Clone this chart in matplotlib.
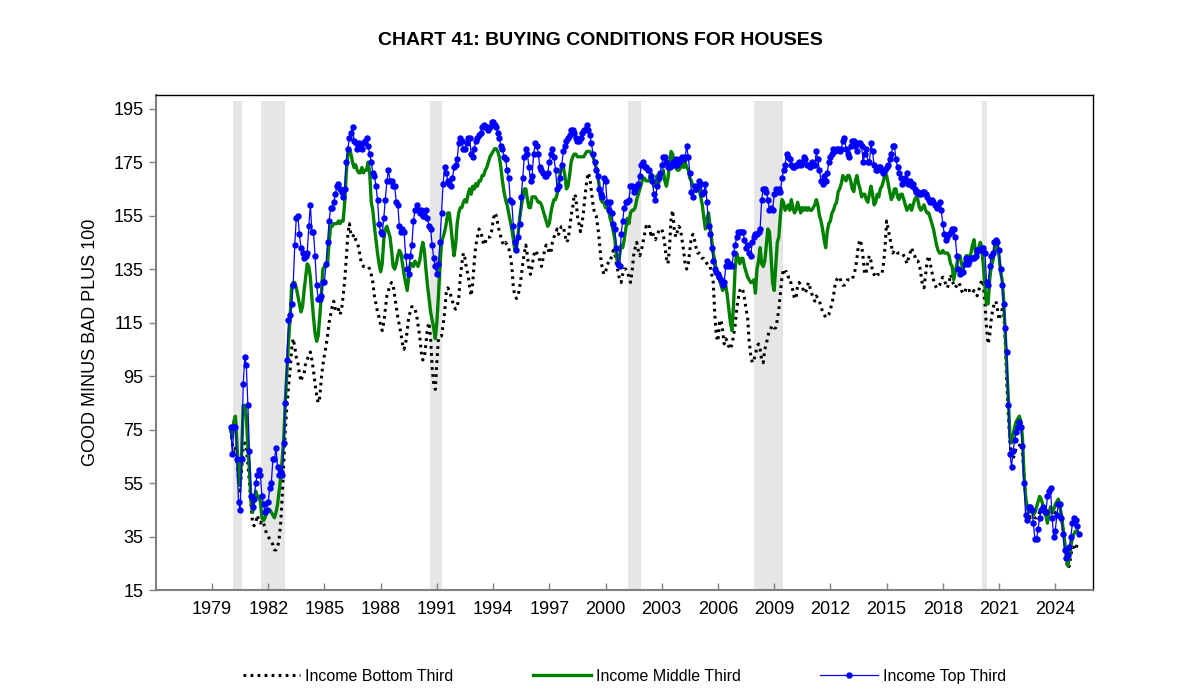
import numpy as np
import matplotlib
matplotlib.use("Agg")
import matplotlib.pyplot as plt

plt.rcParams['font.family'] = ['Liberation Sans', 'DejaVu Sans']

# =========================
# Data: monthly, Jan 1980 - Apr 2025 (good minus bad plus 100)
# =========================
top_third = [
    76, 66, 76, 76, 64, 48, 45, 64, 92, 102, 99, 84,          # 1980
    67, 50, 46, 49, 55, 58, 60, 58, 50, 47, 44, 45,           # 1981
    48, 53, 55, 64, 64, 68, 61, 58, 59, 58, 70, 85,           # 1982
    101, 116, 118, 122, 129, 144, 154, 155, 148, 143, 141, 139,  # 1983
    140, 141, 151, 159, 149, 149, 140, 129, 124, 124, 125, 130,  # 1984
    130, 137, 145, 153, 158, 158, 160, 163, 166, 167, 165, 164,  # 1985
    162, 165, 175, 180, 184, 186, 188, 183, 182, 180, 182, 181,  # 1986
    180, 182, 183, 184, 181, 178, 175, 171, 170, 166, 161, 152,  # 1987
    149, 148, 154, 161, 168, 172, 168, 168, 166, 166, 160, 159,  # 1988
    151, 149, 150, 149, 140, 135, 133, 140, 144, 153, 157, 159,  # 1989
    157, 156, 157, 155, 155, 157, 154, 151, 150, 144, 139, 136,  # 1990
    133, 137, 145, 156, 167, 173, 171, 168, 167, 166, 169, 173,  # 1991
    174, 176, 182, 184, 183, 180, 180, 182, 184, 184, 178, 177,  # 1992
    180, 183, 184, 185, 186, 188, 189, 188, 188, 187, 188, 190,  # 1993
    190, 189, 188, 186, 184, 181, 180, 177, 176, 172, 169, 161,  # 1994
    160, 151, 145, 142, 147, 152, 162, 169, 177, 180, 178, 173,  # 1995
    168, 170, 178, 182, 181, 178, 173, 172, 171, 170, 170, 171,  # 1996
    175, 178, 180, 177, 172, 165, 166, 169, 174, 179, 181, 183,  # 1997
    184, 185, 187, 187, 186, 184, 183, 183, 184, 186, 187, 187,  # 1998
    189, 187, 185, 182, 178, 175, 172, 170, 165, 163, 162, 169,  # 1999
    168, 160, 157, 160, 156, 152, 150, 143, 137, 136, 148, 153,  # 2000
    158, 160, 160, 161, 166, 166, 164, 165, 166, 167, 170, 174,  # 2001
    175, 173, 173, 172, 172, 170, 168, 163, 161, 166, 169, 171,  # 2002
    174, 177, 177, 175, 173, 173, 174, 175, 174, 176, 174, 175,  # 2003
    176, 177, 176, 177, 181, 177, 171, 164, 162, 166, 165, 166,  # 2004
    168, 167, 163, 164, 167, 160, 151, 148, 143, 138, 135, 134,  # 2005
    133, 132, 131, 129, 130, 136, 138, 136, 137, 136, 141, 144,  # 2006
    147, 149, 149, 149, 149, 146, 143, 144, 141, 140, 145, 147,  # 2007
    148, 148, 149, 150, 161, 165, 165, 164, 161, 157, 158, 157,  # 2008
    163, 165, 164, 165, 164, 169, 172, 174, 178, 177, 176, 174,  # 2009
    173, 173, 174, 174, 175, 174, 175, 177, 176, 174, 174, 173,  # 2010
    175, 174, 174, 179, 176, 172, 168, 167, 170, 168, 171, 175,  # 2011
    177, 178, 180, 179, 180, 180, 179, 180, 183, 184, 180, 178,  # 2012
    177, 181, 183, 183, 181, 179, 182, 182, 181, 175, 178, 180,  # 2013
    175, 175, 182, 179, 174, 172, 172, 173, 173, 172, 171, 172,  # 2014
    173, 174, 176, 178, 181, 181, 176, 173, 171, 169, 167, 168,  # 2015
    169, 171, 167, 168, 166, 167, 165, 164, 164, 163, 163, 164,  # 2016
    164, 163, 162, 161, 160, 161, 160, 159, 158, 159, 160, 157,  # 2017
    152, 148, 146, 147, 148, 149, 150, 150, 147, 140, 135, 133,  # 2018
    134, 134, 137, 139, 137, 138, 139, 139, 139, 140, 142, 142,  # 2019
    142, 143, 143, 141, 130, 129, 136, 140, 141, 145, 146, 145,  # 2020
    142, 135, 129, 122, 113, 104, 84, 66, 61, 67, 71, 74,        # 2021
    76, 78, 76, 69, 55, 43, 41, 46, 46, 45, 40, 34,              # 2022
    34, 38, 42, 45, 46, 45, 44, 50, 52, 53, 42, 35,              # 2023
    37, 43, 47, 47, 42, 36, 30, 27, 28, 31, 35, 40,              # 2024
    42, 41, 39, 36,                                              # 2025
]

middle_third = [
    75, 72, 78, 80, 70, 56, 54, 66, 84, 84, 80, 68,           # 1980
    60, 48, 44, 49, 52, 50, 50, 48, 42, 41, 42, 44,           # 1981
    45, 45, 44, 43, 42, 44, 47, 52, 57, 64, 72, 86,           # 1982
    97, 108, 116, 129, 130, 130, 128, 125, 122, 119, 121, 127,   # 1983
    132, 137, 136, 132, 124, 117, 111, 108, 110, 117, 125, 135,  # 1984
    136, 136, 137, 145, 151, 151, 152, 152, 152, 153, 152, 153,  # 1985
    153, 160, 171, 178, 180, 178, 175, 173, 174, 172, 171, 171,  # 1986
    173, 171, 172, 172, 175, 171, 160, 157, 151, 146, 141, 137,  # 1987
    134, 137, 146, 150, 151, 149, 147, 142, 136, 135, 137, 140,  # 1988
    142, 141, 137, 133, 130, 127, 132, 137, 137, 136, 138, 137,  # 1989
    136, 138, 142, 145, 142, 135, 129, 124, 119, 116, 113, 109,  # 1990
    115, 125, 136, 145, 147, 149, 152, 156, 156, 151, 145, 140,  # 1991
    144, 152, 156, 158, 158, 160, 161, 160, 163, 165, 163, 166,  # 1992
    165, 167, 166, 168, 168, 170, 170, 172, 173, 175, 177, 178,  # 1993
    179, 180, 180, 179, 177, 173, 168, 164, 161, 159, 156, 153,  # 1994
    150, 146, 142, 143, 148, 154, 158, 162, 165, 165, 161, 158,  # 1995
    158, 162, 162, 162, 161, 160, 160, 159, 157, 155, 153, 151,  # 1996
    152, 156, 159, 161, 161, 163, 167, 171, 174, 173, 170, 165,  # 1997
    166, 170, 175, 177, 178, 178, 177, 177, 177, 177, 177, 178,  # 1998
    179, 179, 179, 178, 177, 175, 173, 170, 166, 161, 160, 160,  # 1999
    158, 158, 157, 154, 152, 149, 146, 140, 136, 140, 144, 143,  # 2000
    146, 150, 154, 152, 156, 157, 157, 158, 161, 163, 165, 167,  # 2001
    169, 169, 168, 168, 168, 171, 168, 166, 167, 170, 167, 169,  # 2002
    171, 172, 168, 166, 169, 174, 179, 178, 175, 173, 172, 172,  # 2003
    173, 175, 173, 175, 173, 172, 169, 168, 166, 165, 164, 166,  # 2004
    165, 162, 159, 154, 150, 154, 156, 151, 146, 141, 138, 134,  # 2005
    132, 131, 129, 127, 128, 129, 125, 120, 115, 112, 122, 135,  # 2006
    141, 139, 137, 139, 139, 136, 134, 132, 131, 130, 130, 131,  # 2007
    126, 135, 138, 143, 137, 136, 138, 144, 150, 149, 140, 130,  # 2008
    127, 136, 145, 147, 155, 161, 160, 157, 158, 159, 157, 161,  # 2009
    158, 156, 157, 160, 158, 156, 158, 157, 158, 157, 158, 157,  # 2010
    157, 158, 159, 161, 159, 155, 153, 150, 146, 143, 149, 152,  # 2011
    153, 156, 157, 159, 160, 164, 165, 167, 170, 169, 168, 170,  # 2012
    170, 168, 165, 164, 168, 170, 167, 165, 162, 163, 163, 161,  # 2013
    160, 163, 166, 163, 159, 160, 163, 162, 165, 166, 168, 171,  # 2014
    170, 167, 164, 161, 162, 165, 165, 162, 161, 163, 163, 161,  # 2015
    159, 157, 158, 159, 157, 159, 161, 162, 161, 158, 157, 158,  # 2016
    159, 157, 156, 156, 154, 152, 150, 147, 144, 142, 141, 141,  # 2017
    142, 141, 141, 141, 140, 137, 136, 131, 134, 137, 140, 140,  # 2018
    137, 135, 137, 140, 140, 138, 141, 144, 146, 141, 139, 143,  # 2019
    145, 143, 136, 128, 122, 122, 131, 136, 138, 141, 144, 144,  # 2020
    140, 134, 131, 123, 111, 98, 86, 72, 70, 73, 76, 78,         # 2021
    79, 80, 78, 72, 58, 50, 46, 44, 46, 46, 43, 44,              # 2022
    46, 48, 50, 49, 47, 45, 43, 40, 44, 46, 44, 45,              # 2023
    47, 48, 49, 46, 43, 38, 33, 28, 24, 27, 31, 35,              # 2024
    36, 37, 37, 36,                                              # 2025
]

bottom_third = [
    75, 70, 66, 68, 63, 56, 52, 60, 69, 70, 68, 62,           # 1980
    55, 47, 40, 39, 40, 43, 41, 40, 41, 40, 38, 36,           # 1981
    35, 34, 33, 32, 30, 30, 31, 34, 40, 50, 63, 75,           # 1982
    84, 91, 97, 105, 109, 106, 102, 100, 96, 93, 95, 96,      # 1983
    100, 101, 103, 104, 101, 97, 92, 88, 85, 87, 94, 99,      # 1984
    103, 106, 110, 115, 118, 121, 123, 120, 119, 120, 118, 120,  # 1985
    125, 131, 139, 148, 152, 148, 147, 148, 146, 145, 143, 139,  # 1986
    137, 136, 136, 136, 136, 135, 133, 130, 125, 122, 119, 117,  # 1987
    114, 112, 115, 120, 125, 127, 129, 130, 129, 125, 121, 117,  # 1988
    114, 111, 107, 105, 107, 112, 117, 119, 121, 120, 120, 118,  # 1989
    114, 110, 104, 101, 102, 107, 113, 115, 109, 98, 92, 90,     # 1990
    100, 109, 110, 110, 114, 119, 126, 128, 127, 125, 123, 121,  # 1991
    120, 121, 124, 132, 137, 141, 139, 135, 133, 128, 125, 130,  # 1992
    138, 144, 147, 150, 149, 147, 144, 145, 147, 147, 147, 149,  # 1993
    153, 156, 155, 152, 149, 147, 145, 144, 145, 144, 143, 140,  # 1994
    136, 128, 125, 124, 125, 128, 132, 137, 141, 144, 140, 135,  # 1995
    133, 136, 140, 142, 141, 140, 138, 136, 139, 142, 144, 143,  # 1996
    141, 141, 145, 147, 148, 150, 148, 150, 151, 151, 148, 145,  # 1997
    146, 150, 155, 158, 163, 162, 155, 152, 149, 152, 157, 163,  # 1998
    168, 171, 169, 164, 159, 156, 155, 151, 146, 139, 135, 133,  # 1999
    134, 136, 138, 138, 140, 142, 141, 137, 134, 131, 130, 133,  # 2000
    135, 135, 134, 132, 130, 134, 140, 143, 145, 142, 140, 142,  # 2001
    145, 148, 151, 150, 151, 148, 149, 147, 146, 148, 149, 150,  # 2002
    150, 148, 144, 139, 137, 143, 154, 157, 150, 147, 149, 151,  # 2003
    150, 146, 142, 137, 135, 137, 142, 147, 148, 146, 143, 141,  # 2004
    141, 140, 139, 139, 138, 137, 136, 136, 133, 130, 118, 110,  # 2005
    108, 115, 116, 112, 107, 109, 108, 106, 105, 107, 110, 114,  # 2006
    120, 124, 127, 128, 127, 124, 120, 117, 108, 103, 100, 101,  # 2007
    103, 106, 107, 105, 101, 100, 105, 107, 110, 112, 113, 114,  # 2008
    113, 113, 116, 120, 126, 132, 135, 134, 134, 132, 132, 129,  # 2009
    127, 124, 124, 129, 130, 129, 128, 127, 126, 128, 130, 128,  # 2010
    126, 124, 123, 125, 124, 123, 121, 119, 118, 117, 117, 118,  # 2011
    120, 122, 125, 129, 131, 132, 132, 130, 129, 129, 130, 131,  # 2012
    131, 131, 131, 133, 135, 139, 144, 146, 144, 139, 133, 134,  # 2013
    138, 140, 138, 134, 133, 132, 133, 133, 133, 133, 137, 143,  # 2014
    153, 150, 147, 144, 141, 142, 142, 141, 141, 141, 141, 140,  # 2015
    139, 137, 139, 141, 143, 141, 140, 138, 138, 137, 133, 129,  # 2016
    128, 133, 138, 140, 137, 134, 131, 129, 128, 128, 129, 131,  # 2017
    132, 131, 129, 128, 130, 133, 131, 129, 128, 129, 130, 129,  # 2018
    127, 126, 126, 128, 127, 127, 126, 126, 127, 126, 125, 127,  # 2019
    129, 131, 129, 122, 113, 107, 110, 116, 120, 122, 123, 120,  # 2020
    116, 118, 120, 119, 108, 92, 80, 70, 64, 64, 66, 68,         # 2021
    68, 69, 70, 66, 59, 50, 46, 44, 42, 44, 44, 42,              # 2022
    42, 43, 44, 45, 46, 44, 42, 41, 44, 46, 45, 44,              # 2023
    44, 43, 43, 42, 42, 38, 33, 27, 23, 24, 28, 31,              # 2024
    31, 30, 32, 33,                                              # 2025
]

# recession periods (decimal years)
recessions = [(1980.10, 1980.60), (1981.62, 1982.91), (1990.62, 1991.28),
              (2001.19, 2001.92), (2007.95, 2009.48), (2020.11, 2020.34)]

year_ticks = list(range(1979, 2025, 3))

# =========================
# Plot
# =========================
months = 1980 + np.arange(len(top_third)) / 12.0

fig = plt.figure(figsize=(12, 6.98), dpi=100)
ax = fig.add_axes([0.1298, 0.1547, 0.7808, 0.7088])

for start, end in recessions:
    ax.axvspan(start, end, ymin=0, ymax=0.989, color='#e6e6e6', lw=0, zorder=0)

ax.plot(months, bottom_third, color='black', lw=2.2, linestyle=(0, (0.9, 1.4)),
        label='Income Bottom Third', zorder=2)
ax.plot(months, middle_third, color='#008000', lw=2.4,
        label='Income Middle Third', zorder=3)
ax.plot(months, top_third, color='#0000ff', lw=0.9, marker='o', markersize=3.6,
        label='Income Top Third', zorder=4)

ax.set_xlim(1976, 2026)
ax.set_ylim(15, 200)
ax.set_yticks(range(15, 196, 20))
ax.set_xticks(year_ticks)
ax.set_xticklabels([str(y) for y in year_ticks])

ax.tick_params(axis='y', direction='out', length=5, width=1, color='#808080',
               labelsize=13, pad=4)
ax.tick_params(axis='x', direction='in', length=5, width=1, color='#808080',
               labelsize=13, pad=8)

for side in ['left', 'bottom']:
    ax.spines[side].set_color('#808080')
    ax.spines[side].set_linewidth(1.5)
for side in ['top', 'right']:
    ax.spines[side].set_color('black')
    ax.spines[side].set_linewidth(1.0)

ax.set_ylabel('GOOD MINUS BAD PLUS 100', fontsize=13, labelpad=10)
fig.text(0.5, 0.942, 'CHART 41: BUYING CONDITIONS FOR HOUSES', ha='center',
         va='center', fontsize=14, fontweight='bold')

ax.legend(loc='center', bbox_to_anchor=(0.5, -0.174), ncol=3, frameon=False,
          fontsize=11.5, handlelength=3.6, columnspacing=5.0, handletextpad=0.3)

fig.savefig('out.png', dpi=100)
